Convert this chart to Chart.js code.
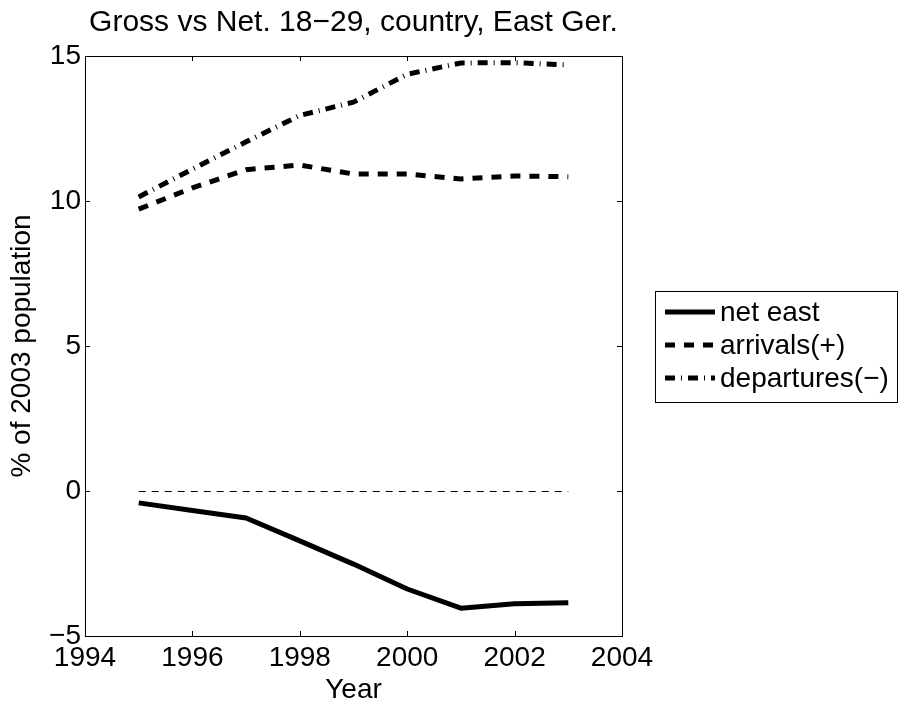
<!DOCTYPE html>
<html>
<head>
<meta charset="utf-8">
<script src="https://cdn.jsdelivr.net/npm/chart.js@4"></script>
<style>
  body { margin: 0; background: #fff; }
  canvas { display: block; }
</style>
</head>
<body>
<canvas id="migChart" width="904" height="704"></canvas>
<script>
// data
const years = [1995, 1996, 1997, 1998, 1999, 2000, 2001, 2002, 2003];
const netEast = [-0.41, -0.67, -0.93, -1.72, -2.52, -3.38, -4.04, -3.89, -3.85];
const arrivals = [9.72, 10.45, 11.08, 11.24, 10.93, 10.93, 10.76, 10.86, 10.84];
const departures = [10.14, 11.10, 12.04, 12.95, 13.41, 14.37, 14.76, 14.77, 14.69];
const zeroLine = [0, 0];
const zeroYears = [1995, 2003];

const xTicks = [1994, 1996, 1998, 2000, 2002, 2004];
const yTicks = [-5, 0, 5, 10, 15];

const titleText = 'Gross vs Net. 18\u221229, country, East Ger.';
const FONT = '"Liberation Sans", Arial, Helvetica, sans-serif';

const pts = (xs, ys) => xs.map((x, i) => ({ x: x, y: ys[i] }));

// matlab-ish box, inward ticks, title and framed legend
const matlabFrame = {
  id: 'matlabFrame',
  beforeDatasetDraw(chart, args) {
    // keep the thin zero line on a pixel row so it stays black
    if (chart.data.datasets[args.index].thin) {
      chart.ctx.save();
      chart.ctx.translate(0, 0.5);
    }
  },
  afterDatasetDraw(chart, args) {
    if (chart.data.datasets[args.index].thin) chart.ctx.restore();
  },
  afterDraw(chart) {
    const { ctx, chartArea: a, scales } = chart;
    ctx.save();
    ctx.strokeStyle = '#000';
    ctx.lineWidth = 1;
    ctx.setLineDash([]);
    ctx.strokeRect(a.left + 0.5, a.top + 0.5, a.right - a.left, a.bottom - a.top);

    const tl = 5;
    ctx.beginPath();
    xTicks.forEach(v => {
      const px = Math.round(scales.x.getPixelForValue(v)) + 0.5;
      ctx.moveTo(px, a.bottom); ctx.lineTo(px, a.bottom - tl);
      ctx.moveTo(px, a.top); ctx.lineTo(px, a.top + tl);
    });
    yTicks.forEach(v => {
      const py = Math.round(scales.y.getPixelForValue(v)) + 0.5;
      ctx.moveTo(a.left, py); ctx.lineTo(a.left + tl, py);
      ctx.moveTo(a.right, py); ctx.lineTo(a.right - tl, py);
    });
    ctx.stroke();

    // title
    ctx.fillStyle = '#000';
    ctx.font = '30px ' + FONT;
    ctx.textAlign = 'center';
    ctx.textBaseline = 'middle';
    ctx.fillText(titleText, (a.left + a.right) / 2, 23);

    // legend
    ctx.font = '28px ' + FONT;
    const lx = a.right + 33, ly = 291, lw = 242, lh = 111;
    ctx.strokeRect(lx + 0.5, ly + 0.5, lw, lh);
    ctx.textAlign = 'left';
    chart.data.datasets.filter(d => !d.thin).forEach((d, i) => {
      const cy = ly + 21 + i * 33;
      ctx.beginPath();
      ctx.lineWidth = d.borderWidth;
      ctx.lineCap = 'butt';
      ctx.setLineDash(d.borderDash || []);
      ctx.moveTo(lx + 10, cy);
      ctx.lineTo(lx + 60, cy);
      ctx.stroke();
      ctx.setLineDash([]);
      ctx.fillText(d.label, lx + 65, cy + 1);
    });
    ctx.restore();
  }
};

const ctx = document.getElementById('migChart').getContext('2d');
const chart = new Chart(ctx, {
  type: 'line',
  data: {
    datasets: [
      {
        label: 'net east',
        data: pts(years, netEast),
        borderColor: '#000',
        borderWidth: 5
      },
      {
        label: 'arrivals(+)',
        data: pts(years, arrivals),
        borderColor: '#000',
        borderWidth: 5,
        borderDash: [10, 9]
      },
      {
        label: 'departures(\u2212)',
        data: pts(years, departures),
        borderColor: '#000',
        borderWidth: 5,
        borderDash: [10, 6, 1, 6]
      },
      {
        label: 'zero',
        thin: true,
        data: pts(zeroYears, zeroLine),
        borderColor: '#000',
        borderWidth: 1,
        borderDash: [7, 6]
      }
    ]
  },
  options: {
    responsive: false,
    animation: false,
    layout: { padding: { top: 56, right: 282, left: 0, bottom: 0 } },
    elements: {
      point: { radius: 0 },
      line: { tension: 0, borderCapStyle: 'butt', borderJoinStyle: 'round' }
    },
    plugins: {
      legend: { display: false },
      tooltip: { enabled: false }
    },
    scales: {
      x: {
        type: 'linear',
        min: 1994,
        max: 2004,
        afterFit: s => { s.height = 68; },
        afterBuildTicks: s => { s.ticks = xTicks.map(v => ({ value: v })); },
        grid: { display: false, drawTicks: false },
        border: { display: false },
        ticks: {
          color: '#000',
          padding: 5,
          maxRotation: 0,
          autoSkip: false,
          font: { family: FONT, size: 28 },
          callback: v => String(v)
        },
        title: {
          display: true,
          text: 'Year',
          color: '#000',
          padding: 0,
          font: { family: FONT, size: 28, lineHeight: 1 }
        }
      },
      y: {
        min: -5,
        max: 15,
        afterFit: s => { s.width = 85; },
        afterBuildTicks: s => { s.ticks = yTicks.map(v => ({ value: v })); },
        grid: { display: false, drawTicks: false },
        border: { display: false },
        ticks: {
          color: '#000',
          padding: 4,
          autoSkip: false,
          font: { family: FONT, size: 28 },
          callback: v => String(v).replace('-', '\u2212')
        },
        title: {
          display: true,
          text: '% of 2003 population',
          color: '#000',
          padding: { top: 8, bottom: 0 },
          font: { family: FONT, size: 28, lineHeight: 1 }
        }
      }
    }
  },
  plugins: [matlabFrame]
});
</script>
</body>
</html>
